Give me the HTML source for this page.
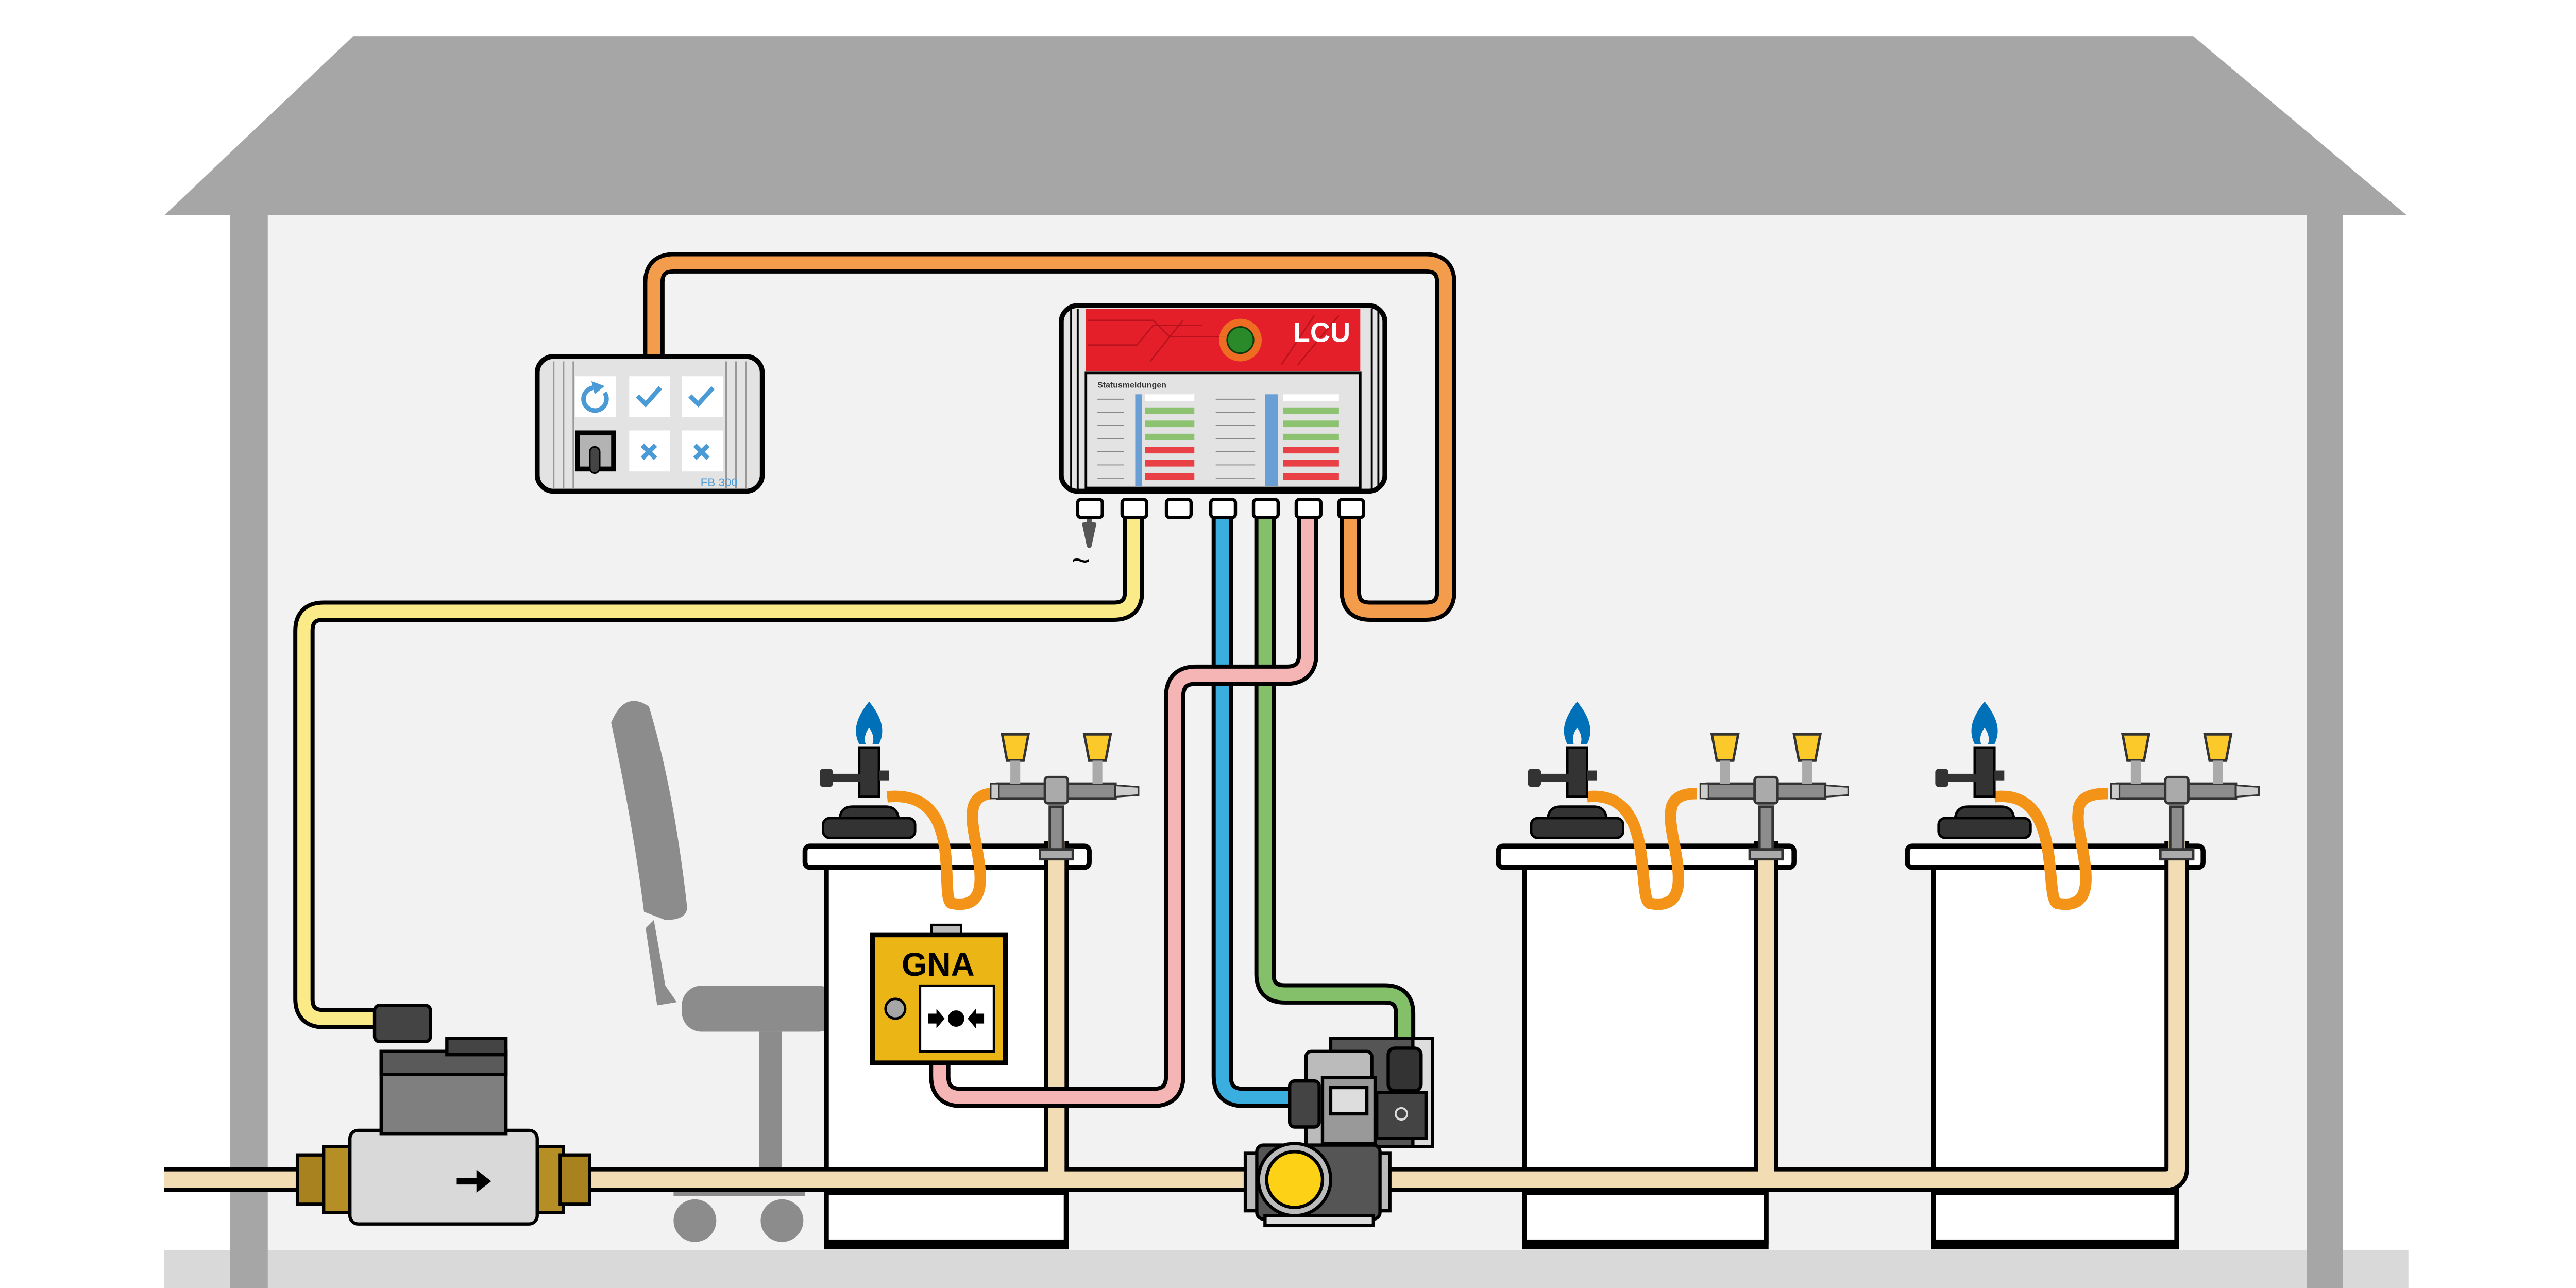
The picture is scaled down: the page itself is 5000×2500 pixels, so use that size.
<!DOCTYPE html>
<html><head><meta charset="utf-8"><style>
html,body{margin:0;padding:0;background:#fff}
svg{display:block}
text{font-family:"Liberation Sans",sans-serif}
</style></head><body>
<svg width="5000" height="2500" viewBox="0 0 1568 784" xmlns="http://www.w3.org/2000/svg">
<rect width="1568" height="784" fill="#ffffff"/>
<!-- house -->
<rect x="162" y="130" width="1243" height="632" fill="#f2f2f2"/>
<polygon points="215,22 1335,22 1465,131 100,131" fill="#a6a6a6"/>
<rect x="140" y="131" width="23" height="653" fill="#a6a6a6"/>
<rect x="1404" y="131" width="22" height="653" fill="#a6a6a6"/>
<rect x="100" y="761" width="1366" height="23" fill="#d9d9d9"/>
<rect x="140" y="761" width="23" height="23" fill="#a6a6a6"/>
<rect x="1404" y="761" width="22" height="23" fill="#a6a6a6"/>

<!-- chair -->
<g fill="#8c8c8c">
<path d="M372,440 Q380,420 395,430 Q410,480 418,550 Q420,560 405,560 L392,555 Q385,500 372,440Z"/>
<path d="M398,560 L405,600 L412,610 L400,612 L393,565Z"/>
<rect x="415" y="600" width="95" height="28" rx="12"/>
<rect x="462" y="628" width="14" height="100"/>
<rect x="410" y="718" width="80" height="10"/>
<circle cx="423" cy="743" r="13"/><circle cx="476" cy="743" r="13"/>
</g>

<!-- tables -->
<g stroke="#000" stroke-width="3" fill="#fff">
<rect x="503" y="527" width="146" height="232"/>
<rect x="490" y="515" width="173" height="13" rx="3"/>
<rect x="503" y="726" width="146" height="30"/>
<rect x="928" y="527" width="147" height="232"/>
<rect x="912" y="515" width="180" height="13" rx="3"/>
<rect x="928" y="726" width="147" height="30"/>
<rect x="1177" y="527" width="148" height="232"/>
<rect x="1161" y="515" width="180" height="13" rx="3"/>
<rect x="1177" y="726" width="148" height="30"/>
</g>

<!-- gas pipe -->
<g fill="none" stroke-linejoin="round">
<path d="M100,718 L1318,718 Q1325,718 1325,711 L1325,512 M643,718 L643,512 M1075,718 L1075,512" stroke="#000" stroke-width="15"/>
<path d="M100,718 L1318,718 Q1325,718 1325,711 L1325,512 M643,718 L643,512 M1075,718 L1075,512" stroke="#f2dcb3" stroke-width="10"/>
</g>

<!-- cables -->
<g fill="none" stroke-linejoin="round" stroke-linecap="butt">
<path d="M398,218 L398,172 Q398,160 410,160 L868,160 Q880,160 880,172 L880,360 Q880,372 868,372 L834,372 Q822,372 822,360 L822,312" stroke="#000" stroke-width="13"/>
<path d="M398,218 L398,172 Q398,160 410,160 L868,160 Q880,160 880,172 L880,360 Q880,372 868,372 L834,372 Q822,372 822,360 L822,312" stroke="#f39c4c" stroke-width="8"/>
<path d="M690,312 L690,360 Q690,372 678,372 L197,372 Q185,372 185,384 L185,608 Q185,620 197,620 L228,620" stroke="#000" stroke-width="13"/>
<path d="M690,312 L690,360 Q690,372 678,372 L197,372 Q185,372 185,384 L185,608 Q185,620 197,620 L228,620" stroke="#fbeb88" stroke-width="8"/>
<path d="M744,312 L744,655 Q744,668 757,668 L788,668" stroke="#000" stroke-width="13"/>
<path d="M744,312 L744,655 Q744,668 757,668 L788,668" stroke="#3aaedf" stroke-width="8"/>
<path d="M770,312 L770,593 Q770,605 782,605 L843,605 Q855,605 855,617 L855,640" stroke="#000" stroke-width="13"/>
<path d="M770,312 L770,593 Q770,605 782,605 L843,605 Q855,605 855,617 L855,640" stroke="#84c06a" stroke-width="8"/>
<path d="M796,312 L796,398 Q796,411 783,411 L728,411 Q715,411 715,424 L715,655 Q715,668 702,668 L585,668 Q572,668 572,655 L572,646" stroke="#000" stroke-width="13"/>
<path d="M796,312 L796,398 Q796,411 783,411 L728,411 Q715,411 715,424 L715,655 Q715,668 702,668 L585,668 Q572,668 572,655 L572,646" stroke="#f5b5b5" stroke-width="8"/>
<path d="M663,312 L663,330 M660,318 l3,14 l3,-14" stroke="#555" stroke-width="3"/>
</g>
<text x="652" y="348" font-size="20" fill="#000">~</text>

<!-- GNA -->
<rect x="567" y="563" width="18" height="7" fill="#bbb" stroke="#000" stroke-width="1.5"/>
<rect x="531" y="569" width="81" height="78" fill="#ecb516" stroke="#000" stroke-width="3"/>
<text x="571" y="594" font-size="20" font-weight="bold" text-anchor="middle" fill="#000">GNA</text>
<circle cx="545" cy="614" r="6" fill="#a6a6a6" stroke="#000" stroke-width="1.5"/>
<rect x="560" y="600" width="45" height="40" fill="#fff" stroke="#000" stroke-width="1.5"/>
<circle cx="582" cy="620" r="5" fill="#000"/>
<path d="M565,617 h5 v-3 l5,6 l-5,6 v-3 h-5z M599,617 h-5 v-3 l-5,6 l5,6 v-3 h5z" fill="#000"/>

<!-- burners & taps -->
<defs>
<g id="burner">
<path d="M0,-68 C-8,-58 -10,-50 -6,-42 L6,-42 C10,-50 8,-58 0,-68Z" fill="#0070b8"/>
<path d="M0,-52 C-3,-48 -3,-44 -2,-42 L2,-42 C3,-44 3,-48 0,-52Z" fill="#f2f2f2"/>
<rect x="-6" y="-40" width="12" height="30" fill="#333" stroke="#000" stroke-width="1.5"/>
<rect x="-25" y="-24" width="20" height="5" fill="#333"/>
<rect x="-30" y="-27" width="8" height="11" rx="2" fill="#333"/>
<rect x="6" y="-26" width="6" height="6" fill="#333"/>
<path d="M-18,5 Q-18,-4 -10,-4 L10,-4 Q18,-4 18,5Z" fill="#333" stroke="#000" stroke-width="1.5"/>
<rect x="-28" y="3" width="56" height="12" rx="4" fill="#333" stroke="#000" stroke-width="1.5"/>
</g>
<g id="tap">
<rect x="-4" y="-14" width="8" height="30" fill="#8c8c8c" stroke="#333" stroke-width="1.5"/>
<rect x="-10" y="12" width="20" height="6" fill="#aaa" stroke="#333" stroke-width="1.5"/>
<rect x="-36" y="-28" width="72" height="9" fill="#8c8c8c" stroke="#333" stroke-width="1.5"/>
<rect x="-7" y="-32" width="14" height="16" rx="2" fill="#aaa" stroke="#333" stroke-width="1.5"/>
<path d="M36,-27 L50,-26 L50,-21 L36,-20Z" fill="#ccc" stroke="#333" stroke-width="1"/>
<rect x="-40" y="-28" width="5" height="9" fill="#ccc" stroke="#333" stroke-width="1"/>
<path d="M-33,-58 L-17,-58 L-20,-42 L-30,-42Z M17,-58 L33,-58 L30,-42 L20,-42Z" fill="#fcc92a" stroke="#333" stroke-width="1.5"/>
<rect x="-28" y="-42" width="6" height="14" fill="#aaa"/><rect x="22" y="-42" width="6" height="14" fill="#aaa"/>
</g>
</defs>
<g fill="none" stroke="#f39418" stroke-width="7" stroke-linecap="butt">
<path d="M540,485 C590,480 570,550 580,550 C610,555 590,510 592,495 C592,485 600,483 604,483"/>
<path d="M966,485 C1010,480 995,550 1005,550 C1035,555 1015,510 1017,495 C1017,485 1025,483 1033,483"/>
<path d="M1214,485 C1258,480 1243,550 1253,550 C1283,555 1263,510 1265,495 C1265,485 1273,483 1283,483"/>
</g>
<use href="#burner" x="529" y="495"/>
<use href="#burner" x="960" y="495"/>
<use href="#burner" x="1208" y="495"/>
<use href="#tap" x="643" y="505"/>
<use href="#tap" x="1075" y="505"/>
<use href="#tap" x="1325" y="505"/>

<!-- left valve -->
<g stroke="#000" stroke-width="2">
<rect x="181" y="703" width="18" height="30" fill="#a8821e"/>
<rect x="197" y="698" width="16" height="40" fill="#b58e25"/>
<rect x="327" y="698" width="16" height="40" fill="#b58e25"/>
<rect x="341" y="703" width="18" height="30" fill="#a8821e"/>
<rect x="213" y="688" width="114" height="57" rx="5" fill="#d9d9d9"/>
<rect x="232" y="640" width="76" height="50" fill="#7f7f7f"/>
<rect x="232" y="640" width="76" height="14" fill="#5a5a5a"/>
<rect x="272" y="632" width="36" height="10" fill="#444"/>
<rect x="228" y="612" width="34" height="22" rx="3" fill="#444"/>
</g>
<path d="M278,717 h12 v-5 l9,7 l-9,7 v-5 h-12z" fill="#000"/>

<!-- pump -->
<g stroke="#000" stroke-width="2">
<rect x="810" y="632" width="58" height="66" fill="#555"/>
<rect x="860" y="632" width="12" height="66" fill="#ddd"/>
<rect x="795" y="640" width="40" height="58" rx="3" fill="#bbb"/>
<rect x="785" y="658" width="18" height="28" rx="3" fill="#444"/>
<rect x="805" y="656" width="32" height="40" fill="#999"/>
<rect x="810" y="662" width="22" height="16" fill="#ddd"/>
<rect x="838" y="665" width="30" height="28" fill="#444"/>
<circle cx="853" cy="678" r="3.5" fill="none" stroke="#ddd" stroke-width="1.2"/>
<rect x="845" y="638" width="20" height="26" rx="4" fill="#333"/>
<rect x="758" y="702" width="8" height="35" fill="#bbb"/>
<rect x="838" y="702" width="8" height="35" fill="#bbb"/>
<rect x="765" y="697" width="75" height="45" rx="4" fill="#555"/>
<rect x="770" y="740" width="66" height="6" fill="#ddd"/>
<circle cx="788" cy="718" r="22" fill="#bbb"/>
<circle cx="788" cy="718" r="17" fill="#fcd116"/>
</g>

<!-- FB 300 -->
<rect x="327" y="217" width="137" height="82" rx="10" fill="#e3e3e3" stroke="#000" stroke-width="3"/>
<g stroke="#999" stroke-width="1"><path d="M337,220 v77 M343,220 v77 M349,220 v77 M442,220 v77 M448,220 v77 M454,220 v77"/></g>
<g fill="#fff"><rect x="350" y="229" width="25" height="25"/><rect x="383" y="229" width="25" height="25"/><rect x="415" y="229" width="25" height="25"/><rect x="383" y="262" width="25" height="25"/><rect x="415" y="262" width="25" height="25"/></g>
<rect x="350" y="262" width="25" height="25" fill="#000"/><rect x="353" y="265" width="19" height="19" fill="#b3b3b3"/>
<rect x="359" y="272" width="6" height="16" rx="3" fill="#444" stroke="#000"/>
<g fill="none" stroke="#4a9ad6" stroke-width="2.8">
<path d="M368,239 A7,7 0 1 1 361,236"/>
<path d="M388,241 l5,5 l9,-10 M420,241 l5,5 l9,-10 M391,271 l8,8 M399,271 l-8,8 M423,271 l8,8 M431,271 l-8,8"/>
</g>
<path d="M360,232 l8,3 l-6,5z" fill="#4a9ad6"/>
<text x="449" y="296" font-size="7" text-anchor="end" fill="#4a9ad6">FB 300</text>

<!-- LCU -->
<rect x="646" y="186" width="197" height="113" rx="10" fill="#e3e3e3" stroke="#000" stroke-width="3"/>
<g stroke="#000" stroke-width="1.2"><path d="M652,188 v110 M656,188 v110 M835,188 v110 M839,188 v110"/></g>
<rect x="661" y="188" width="167" height="38" fill="#e41f2a"/>
<g stroke="#b5121c" stroke-width="0.8" fill="none"><path d="M662,195 h40 l10,10 h40 M662,210 h30 l10,-12 h30 M700,220 l20,-25 M780,222 l20,-30 M790,222 l25,-30"/></g>
<circle cx="755" cy="207" r="13" fill="#f6a020" opacity="0.6"/>
<circle cx="755" cy="207" r="8" fill="#2a8a2a" stroke="#0c3d0c" stroke-width="1"/>
<text x="822" y="208" font-size="17" font-weight="bold" text-anchor="end" fill="#fff">LCU</text>
<rect x="661" y="227" width="167" height="70" fill="#e3e3e3" stroke="#000" stroke-width="1.5"/>
<text x="668" y="236" font-size="5" font-weight="bold" fill="#333">Statusmeldungen</text>
<g>
<rect x="691" y="240" width="4" height="56" fill="#6a9fd6"/>
<rect x="697" y="240" width="30" height="4" fill="#fff"/>
<rect x="697" y="248" width="30" height="4" fill="#8cc270"/>
<rect x="697" y="256" width="30" height="4" fill="#8cc270"/>
<rect x="697" y="264" width="30" height="4" fill="#8cc270"/>
<rect x="697" y="272" width="30" height="4" fill="#e84044"/>
<rect x="697" y="280" width="30" height="4" fill="#e84044"/>
<rect x="697" y="288" width="30" height="4" fill="#e84044"/>
<rect x="770" y="240" width="8" height="56" fill="#6a9fd6"/>
<rect x="781" y="240" width="34" height="4" fill="#fff"/>
<rect x="781" y="248" width="34" height="4" fill="#8cc270"/>
<rect x="781" y="256" width="34" height="4" fill="#8cc270"/>
<rect x="781" y="264" width="34" height="4" fill="#8cc270"/>
<rect x="781" y="272" width="34" height="4" fill="#e84044"/>
<rect x="781" y="280" width="34" height="4" fill="#e84044"/>
<rect x="781" y="288" width="34" height="4" fill="#e84044"/>
</g>
<g stroke="#888" stroke-width="0.6"><path d="M668,243 h16 M668,251 h16 M668,259 h16 M668,267 h16 M668,275 h16 M668,283 h16 M668,291 h16 M740,243 h24 M740,251 h24 M740,259 h24 M740,267 h24 M740,275 h24 M740,283 h24 M740,291 h24"/></g>
<g fill="#fff" stroke="#000" stroke-width="2">
<rect x="656" y="304" width="15" height="11" rx="2"/><rect x="683" y="304" width="15" height="11" rx="2"/><rect x="710" y="304" width="15" height="11" rx="2"/><rect x="737" y="304" width="15" height="11" rx="2"/><rect x="763" y="304" width="15" height="11" rx="2"/><rect x="789" y="304" width="15" height="11" rx="2"/><rect x="815" y="304" width="15" height="11" rx="2"/>
</g>
</svg>
</body></html>
